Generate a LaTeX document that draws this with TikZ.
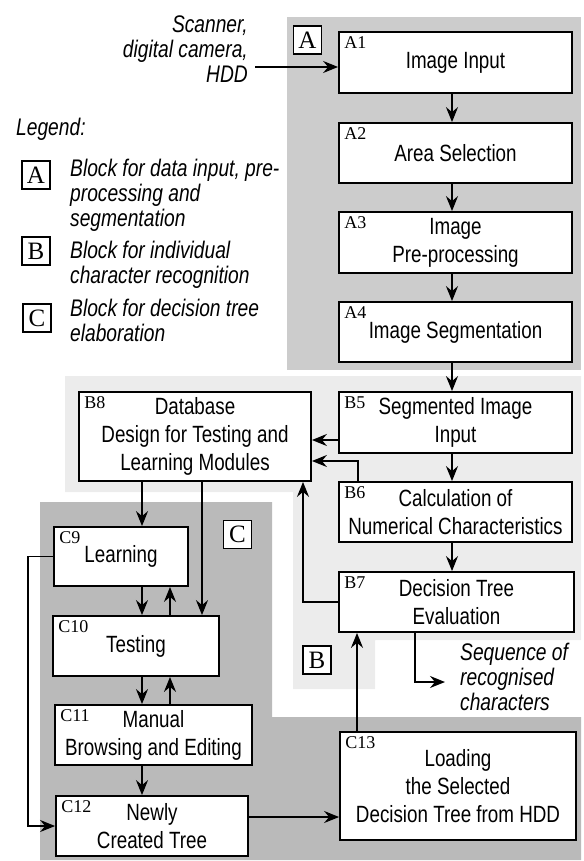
\documentclass[tikz,border=0pt]{standalone}
\usepackage{fontspec}
\usetikzlibrary{arrows.meta}
\newfontfamily\boxfont[FakeStretch=0.8]{Liberation Sans}
\newfontfamily\tagfont{Liberation Serif}
\definecolor{zoneA}{gray}{0.80}
\definecolor{zoneB}{gray}{0.925}
\definecolor{zoneC}{gray}{0.73}
\tikzset{
  blok/.style={draw, fill=white, line width=1.8pt, align=center, inner sep=0pt,
    font=\boxfont\fontsize{23.5}{28}\selectfont},
  tag/.style={anchor=north west, inner sep=0pt, xshift=6pt, yshift=-5pt,
    font=\tagfont\fontsize{18}{18}\selectfont},
  zone/.style={draw, fill=white, line width=1.3pt, minimum size=28pt, inner sep=0pt,
    font=\tagfont\fontsize{25}{25}\selectfont},
  note/.style={align=left, inner sep=0pt, font=\boxfont\itshape\fontsize{24}{25}\selectfont},
  arr/.style={-{Stealth[length=15pt,width=12pt,inset=5pt]}, line width=1.6pt},
}
\begin{document}
\begin{tikzpicture}[x=1pt,y=-1pt]
\useasboundingbox (0,0) rectangle (583,861);

% shaded blocks
\fill[zoneA] (287,17) rectangle (581,370);
\fill[zoneB] (65,376) -- (581,376) -- (581,640) -- (375,640) -- (375,689)
  -- (293,689) -- (293,492) -- (65,492) -- cycle;
\fill[zoneC] (40,502) -- (272,502) -- (272,717) -- (581,717) -- (581,860)
  -- (40,860) -- cycle;

% legend
\node[note, anchor=north west] (leg) at (16,118) {Legend:};
\node[zone] (keyA) at (36,175) {A};
\node[note, anchor=north west] (txtA) at (70,159) {Block for data input, pre-\\processing and\\segmentation};
\node[zone] (keyB) at (36,251) {B};
\node[note, anchor=north west] (txtB) at (70,241) {Block for individual\\character recognition};
\node[zone] (keyC) at (37,318) {C};
\node[note, anchor=north west] (txtC) at (70,299) {Block for decision tree\\elaboration};

% block tags
\node[zone] (zA) at (307.5,40) {A};
\node[zone] (zB) at (317,660) {B};
\node[zone] (zC) at (237.5,534.5) {C};

% block A
\node[blok, minimum width=233pt, minimum height=61pt, label={[tag]north west:A1}] (a1) at (455.5,62.5) {Image Input};
\node[blok, minimum width=233pt, minimum height=60pt, label={[tag]north west:A2}] (a2) at (455.5,153) {Area Selection};
\node[blok, minimum width=233pt, minimum height=61pt, label={[tag]north west:A3}] (a3) at (455.5,242.5) {Image\\Pre-processing};
\node[blok, minimum width=233pt, minimum height=60pt, label={[tag]north west:A4}] (a4) at (455.5,332) {Image Segmentation};

% block B
\node[blok, minimum width=233pt, minimum height=61pt, label={[tag]north west:B5}] (b5) at (455.5,422.5) {Segmented Image\\Input};
\node[blok, minimum width=233pt, minimum height=60pt, label={[tag]north west:B6}] (b6) at (455.5,512) {Calculation of\\Numerical Characteristics};
\node[blok, minimum width=235pt, minimum height=60pt, label={[tag]north west:B7}] (b7) at (456.5,602) {Decision Tree\\Evaluation};
\node[blok, minimum width=232pt, minimum height=89pt, label={[tag]north west:B8}] (b8) at (195,436.5) {Database\\Design for Testing and\\Learning Modules};

% block C
\node[blok, minimum width=134pt, minimum height=59pt, label={[tag]north west:C9}] (c9) at (121,556.5) {Learning};
\node[blok, minimum width=166pt, minimum height=60pt, label={[tag]north west:C10}] (c10) at (136,646) {Testing};
\node[blok, minimum width=197pt, minimum height=60pt, label={[tag]north west:C11}] (c11) at (153.5,735) {Manual\\Browsing and Editing};
\node[blok, minimum width=192pt, minimum height=60pt, label={[tag]north west:C12}] (c12) at (152,826) {Newly\\Created Tree};
\node[blok, minimum width=236pt, minimum height=108pt, label={[tag]north west:C13}] (c13) at (458,786) {Loading\\the Selected\\Decision Tree from HDD};

% inputs and outputs
\node[note, align=right, anchor=north east] (src) at (248,16) {Scanner,\\digital camera,\\HDD};
\node[note, anchor=north west] (seq) at (460,643) {Sequence of\\recognised\\characters};
\coordinate (inp) at (255,67);
\coordinate (outp) at (445,682);
\coordinate (dn) at (142,0);
\coordinate (up) at (170,0);
\coordinate (db) at (202,0);
\coordinate (back) at (28,0);
\coordinate (fb) at (303,0);
\coordinate (ld) at (357,0);
\coordinate (res) at (415,0);
\coordinate (col) at (452,0);

% arrows
\draw[arr] (inp) -- (inp -| a1.west);
\draw[arr] (a1.south -| col) -- (a2.north -| col);
\draw[arr] (a2.south -| col) -- (a3.north -| col);
\draw[arr] (a3.south -| col) -- (a4.north -| col);
\draw[arr] (a4.south -| col) -- (b5.north -| col);
\draw[arr] (b5.south -| col) -- (b6.north -| col);
\draw[arr] (b6.south -| col) -- (b7.north -| col);
\draw[arr] ([yshift=-17.5pt]b5.west) -- ([yshift=-17.5pt]b5.west -| b8.east);
\draw[arr] ([xshift=20pt]b6.north west) |- ([yshift=-24.5pt]b8.east);
\draw[arr] (b7.west) -| (fb |- b8.south);
\draw[arr] (b8.south -| dn) -- (c9.north -| dn);
\draw[arr] (b8.south -| db) -- (c10.north -| db);
\draw[arr] (c9.south -| dn) -- (c10.north -| dn);
\draw[arr] (c10.north -| up) -- (c9.south -| up);
\draw[arr] (c10.south -| dn) -- (c11.north -| dn);
\draw[arr] (c11.north -| up) -- (c10.south -| up);
\draw[arr] (c11.south -| dn) -- (c12.north -| dn);
\draw[arr] (c9.west) -- (c9.west -| back) -- (back |- c12.west) -- (c12.west);
\draw[arr] ([yshift=9pt]c12.east) -- ([yshift=9pt]c12.east -| c13.west);
\draw[arr] (c13.north -| ld) -- (b7.south -| ld);
\draw[arr] (b7.south -| res) |- (outp);
\end{tikzpicture}
\end{document}
